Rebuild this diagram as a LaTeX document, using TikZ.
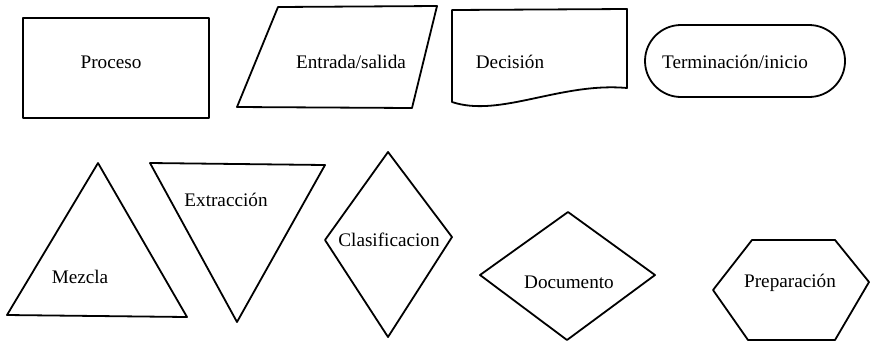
\documentclass[tikz,border=0pt]{standalone}
\usepackage{fontspec}
\setmainfont{Liberation Serif}
\begin{document}
\begin{tikzpicture}[x=0.5pt,y=-0.5pt,line width=0.9pt,line join=round,
  font=\fontsize{9.6pt}{11pt}\selectfont]
\useasboundingbox (0,0) rectangle (870,344);
% first row
\draw (23,18) rectangle (209,118);
\node (proceso) at (111,62) {Proceso};
\draw (278,7)--(437,6)--(412,108)--(237,107)--cycle;
\node (entrada) at (351,62) {Entrada/salida};
\draw (452,10)--(627,9)--(627,88) .. controls (560,82) and (500,118) .. (452,102)--cycle;
\node (decision) at (510,62) {Decisión};
\draw[rounded corners=18pt] (645,25) rectangle (845,97);
\node (terminacion) at (735,62) {Terminación/inicio};

% second row
\draw (98,163)--(187,317)--(7,315)--cycle;
\node (mezcla) at (80,277) {Mezcla};
\draw (150,163)--(325,165)--(237,322)--cycle;
\node (extraccion) at (226,200) {Extracción};
\draw (388,152)--(452,237)--(388,337)--(325,240)--cycle;
\node (clasificacion) at (389,240) {Clasificacion};
\draw (568,212)--(655,275)--(567,340)--(480,275)--cycle;
\node (documento) at (569,282) {Documento};
\draw (752,240)--(835,240)--(869,282)--(835,340)--(748,340)--(713,290)--cycle;
\node (preparacion) at (790,283) {Preparación};
\end{tikzpicture}
\end{document}
